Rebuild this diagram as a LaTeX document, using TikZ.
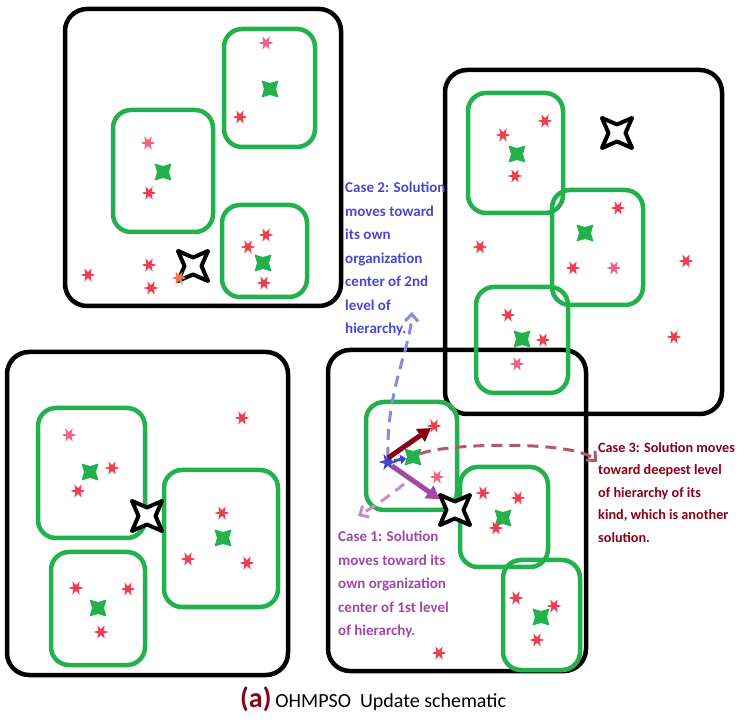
\documentclass[tikz,border=0pt]{standalone}
\usepackage{fontspec}
\setmainfont{Carlito}
\usetikzlibrary{shapes.geometric, arrows.meta, positioning}
\definecolor{paintgreen}{RGB}{34,177,76}
\definecolor{solred}{RGB}{236,62,78}
\definecolor{solpink}{RGB}{238,100,128}
\definecolor{solorange}{RGB}{240,120,80}
\definecolor{paintblue}{RGB}{63,72,204}
\definecolor{hintblue}{RGB}{130,140,225}
\definecolor{arrowred}{RGB}{136,0,21}
\definecolor{hintred}{RGB}{178,88,104}
\definecolor{paintpurple}{RGB}{163,73,164}
\definecolor{hintpurple}{RGB}{196,140,205}
\definecolor{noteblue}{RGB}{72,72,210}
\definecolor{notepurple}{RGB}{160,72,168}

\begin{document}
\begin{tikzpicture}[x=1pt, y=-1pt]
\tikzstyle{group} = [draw, line width=4.5pt, rounded corners=22pt]
\tikzstyle{cluster} = [draw=paintgreen, line width=4.5pt, rounded corners=18pt]
\tikzstyle{sol} = [star, star points=6, star point ratio=0.4, fill=solred, minimum size=6pt, inner sep=0pt]
\tikzstyle{orgcenter} = [star, star points=4, star point ratio=0.5, fill=paintgreen, minimum size=12pt, inner sep=0pt]
\tikzstyle{leader} = [star, star points=4, star point ratio=0.4, draw, fill=white, line width=4pt, line join=round, minimum size=17pt, inner sep=0pt]
\tikzstyle{note} = [anchor=north west, align=left, inner sep=0pt, font=\fontsize{15}{23.5}\selectfont\bfseries]
\tikzstyle{move} = [line width=5pt, -{Triangle[length=13pt, width=15pt]}]
\tikzstyle{hint} = [line width=3pt, dash pattern=on 11pt off 7pt, -{Straight Barb[length=7pt, width=13pt]}]

\useasboundingbox (0,0) rectangle (740,727);

\draw[group] (65,9) rectangle (341,306);
\draw[group] (445,70) rectangle (722,414);
\draw[group] (7,352) rectangle (288,675);
\draw[group] (328,350) rectangle (586,671);

\draw[cluster] (113,110) rectangle (213,232);
\draw[cluster] (224,29) rectangle (315,147);
\draw[cluster] (222,205) rectangle (307,297);
\draw[cluster] (468,93) rectangle (563,213);
\draw[cluster] (552,190) rectangle (643,305);
\draw[cluster] (476,287) rectangle (568,393);
\draw[cluster] (38,408) rectangle (145,538);
\draw[cluster] (164,470) rectangle (278,607);
\draw[cluster] (51,552) rectangle (145,665);
\draw[cluster] (366,402) rectangle (457,510);
\draw[cluster] (460,467) rectangle (548,567);
\draw[cluster] (503,560) rectangle (580,670);

\node[orgcenter] (o1) at (163,172) {};
\node[orgcenter] (o2) at (270,89) {};
\node[orgcenter] (o3) at (263,263) {};
\node[orgcenter] (o4) at (517,154) {};
\node[orgcenter] (o5) at (585,233) {};
\node[orgcenter] (o6) at (522,339) {};
\node[orgcenter] (o7) at (90,472) {};
\node[orgcenter] (o8) at (223,538) {};
\node[orgcenter] (o9) at (98,608) {};
\node[orgcenter] (o10) at (413,457) {};
\node[orgcenter] (o11) at (503,518) {};
\node[orgcenter] (o12) at (541,617) {};

\node[leader] (k1) at (193,266) {};
\node[leader] (k2) at (617,133) {};
\node[leader] (k3) at (147,516) {};
\node[leader] (k4) at (455,510) {};

\node[sol, fill=solpink] (a1) at (148,143) {};
\node[sol] (a2) at (149,193) {};
\node[sol, fill=solpink] (a3) at (266,43) {};
\node[sol] (a4) at (240,117) {};
\node[sol] (a5) at (266,235) {};
\node[sol] (a6) at (248,247) {};
\node[sol] (a7) at (264,283) {};
\node[sol] (a8) at (88,275) {};
\node[sol] (a9) at (149,265) {};
\node[sol] (a10) at (151,288) {};
\node[sol, fill=solorange] (a11) at (179,278) {};

\node[sol] (b1) at (503,135) {};
\node[sol] (b2) at (545,121) {};
\node[sol] (b3) at (515,176) {};
\node[sol] (b4) at (618,208) {};
\node[sol] (b5) at (573,268) {};
\node[sol, fill=solpink] (b6) at (614,268) {};
\node[sol] (b7) at (508,315) {};
\node[sol] (b8) at (543,340) {};
\node[sol, fill=solpink] (b9) at (517,364) {};
\node[sol] (b10) at (480,247) {};
\node[sol] (b11) at (686,261) {};
\node[sol] (b12) at (674,337) {};

\node[sol, fill=solpink] (c1s) at (69,435) {};
\node[sol] (c2s) at (112,468) {};
\node[sol] (c3s) at (78,491) {};
\node[sol] (c4s) at (222,513) {};
\node[sol] (c5s) at (188,559) {};
\node[sol] (c6s) at (247,563) {};
\node[sol] (c7s) at (76,588) {};
\node[sol] (c8s) at (128,589) {};
\node[sol] (c9s) at (101,632) {};
\node[sol] (c10s) at (242,418) {};

\node[sol] (d1) at (434,426) {};
\node[sol, fill=solpink] (d2) at (437,477) {};
\node[sol] (d3) at (483,493) {};
\node[sol] (d4) at (518,498) {};
\node[sol] (d5) at (496,528) {};
\node[sol] (d6) at (516,598) {};
\node[sol] (d7) at (554,606) {};
\node[sol] (d8) at (537,640) {};
\node[sol] (d9) at (439,653) {};
\node[sol, fill=paintblue, minimum size=7.5pt] (s0) at (388,462) {};

\node[note, text=noteblue] (c2) at (345,182) {Case 2: Solution\\moves toward\\its own\\organization\\center of 2nd\\level of\\hierarchy.};
\node[note, text=arrowred, font=\fontsize{14.2}{22.5}\selectfont\bfseries] (c3) at (598,442) {Case 3: Solution moves\\toward deepest level\\of hierarchy of its\\kind, which is another\\solution.};
\node[note, text=notepurple] (c1) at (338,531) {Case 1: Solution\\moves toward its\\own organization\\center of 1st level\\of hierarchy.};
\node[anchor=base west, inner sep=0pt, font=\fontsize{20}{24}\selectfont] (cap) at (240,707) {{\color{arrowred}\fontsize{28}{28}\selectfont\bfseries(a)}\hspace{4pt}OHMPSO\ \ Update schematic};

\coordinate (c2tip) at (412,312);
\coordinate (c3tip) at (597,462);
\coordinate (c1tail) at (404,484);
\coordinate (c1tip) at (358,516);

\draw[hint, color=hintblue] (s0.north) .. controls (386,390) and (410,350) .. (c2tip);
\draw[hint, color=hintred] (o10) .. controls (445,443) and (575,440) .. (c3tip);
\draw[hint, color=hintpurple] (c1tail) .. controls (392,494) and (375,506) .. (c1tip);
\draw[move, color=arrowred] (s0.north) -- (d1);
\draw[move, color=paintpurple] (s0.south east) -- (k4);
\draw[line width=3pt, color=paintblue, -{Triangle[length=6pt, width=9pt]}] (s0) -- (o10);
\end{tikzpicture}
\end{document}
